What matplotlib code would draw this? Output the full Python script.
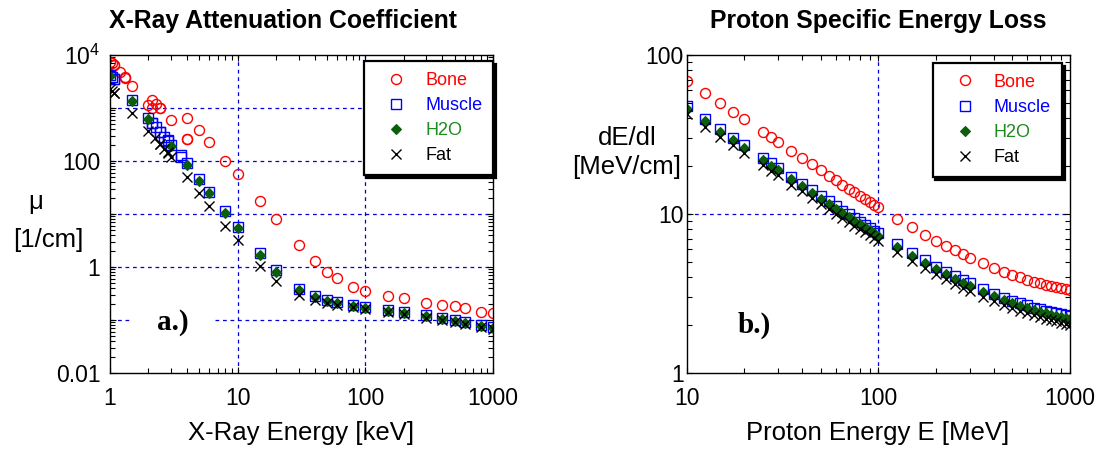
import matplotlib
matplotlib.use("Agg")
import matplotlib.pyplot as plt

plt.rcParams["font.family"] = ["Liberation Sans", "DejaVu Sans"]
plt.rcParams["mathtext.fontset"] = "custom"
plt.rcParams["mathtext.rm"] = "Liberation Sans"

# X-ray attenuation coefficient mu [1/cm] vs photon energy [keV]
xr_bone_e = [1.0, 1.036, 1.072, 1.072, 1.189, 1.305, 1.305, 1.5, 2.0, 2.146, 2.146, 2.3,
             2.472, 2.472, 3.0, 4.0, 4.038, 4.038, 5, 6, 8, 10, 15, 20, 30, 40, 50, 60,
             80, 100, 150, 200, 300, 400, 500, 600, 800, 1000]
xr_bone = [7480, 6950, 6500, 6550, 4850, 3750, 3850, 2600, 1130, 980, 1420, 1190,
           990, 1010, 595, 258, 255, 650, 385, 230, 100, 56, 17.6, 7.9, 2.6, 1.32, 0.82, 0.62,
           0.42, 0.36, 0.28, 0.26, 0.21, 0.19, 0.18, 0.165, 0.14, 0.135]

xr_muscle_e = [1.0, 1.036, 1.072, 1.072, 1.5, 2.0, 2.146, 2.146, 2.3, 2.472, 2.472, 2.647,
               2.822, 2.822, 3.0, 3.607, 3.607, 4.0, 5, 6, 8, 10, 15, 20, 30, 40, 50, 60,
               80, 100, 150, 200, 300, 400, 500, 600, 800, 1000]
xr_muscle = [4200, 3800, 3450, 3470, 1420, 640, 520, 528, 430, 350, 358, 286,
             236, 244, 200, 120, 127, 92, 46, 26.5, 11.2, 5.7, 1.8, 0.86, 0.39, 0.28, 0.236, 0.215,
             0.192, 0.178, 0.157, 0.143, 0.124, 0.111, 0.101, 0.0935, 0.082, 0.0738]

xr_water_e = [1.0, 1.5, 2.0, 3.0, 4.0, 5, 6, 8, 10, 15, 20, 30, 40, 50, 60,
              80, 100, 150, 200, 300, 400, 500, 600, 800, 1000]
xr_water = [4078, 1376, 617, 193, 82.8, 42.6, 24.6, 10.4, 5.33, 1.67, 0.810, 0.376, 0.268, 0.227, 0.206,
            0.184, 0.171, 0.151, 0.137, 0.119, 0.106, 0.0969, 0.0896, 0.0787, 0.0707]

xr_fat_e = [1.0, 1.036, 1.072, 1.072, 1.5, 2.0, 2.236, 2.472, 2.472, 2.647, 2.822, 2.822,
            3.0, 4.0, 5, 6, 8, 10, 15, 20, 30, 40, 50, 60,
            80, 100, 150, 200, 300, 400, 500, 600, 800, 1000]
xr_fat = [2300, 2080, 1880, 1890, 820, 373, 275, 205, 207, 172, 143, 146,
          120, 50, 25, 14.3, 6.0, 3.2, 1.05, 0.55, 0.30, 0.24, 0.212, 0.195,
          0.174, 0.161, 0.142, 0.129, 0.111, 0.0995, 0.091, 0.084, 0.0738, 0.0664]

# Proton stopping power dE/dl [MeV/cm] vs proton energy [MeV]
p_e = [10, 12.5, 15, 17.5, 20, 25, 27.5, 30, 35, 40, 45, 50, 55, 60, 65, 70, 75, 80, 85, 90, 95,
       100, 125, 150, 175, 200, 225, 250, 275, 300, 350, 400, 450, 500, 550, 600, 650, 700,
       750, 800, 850, 900, 950, 1000]
p_bone = [69.0, 57.7, 49.7, 43.9, 39.4, 32.9, 30.4, 28.4, 24.9, 22.5, 20.5, 18.9, 17.4, 16.3,
          15.3, 14.4, 13.7, 13.0, 12.4, 11.9, 11.4, 11.0, 9.35, 8.23, 7.40, 6.78, 6.30, 5.90,
          5.59, 5.32, 4.89, 4.58, 4.33, 4.14, 3.99, 3.86, 3.75, 3.66, 3.58, 3.52, 3.46, 3.41,
          3.37, 3.33]
p_muscle = [47.5, 39.7, 34.2, 30.2, 27.1, 22.6, 20.9, 19.5, 17.2, 15.5, 14.1, 13.0, 12.0, 11.2,
            10.5, 9.94, 9.42, 8.97, 8.57, 8.20, 7.87, 7.58, 6.44, 5.66, 5.10, 4.67, 4.34, 4.07,
            3.85, 3.66, 3.37, 3.15, 2.98, 2.85, 2.75, 2.66, 2.58, 2.52, 2.47, 2.42, 2.38, 2.35,
            2.32, 2.29]
p_water = [45.7, 38.2, 32.9, 29.1, 26.1, 21.8, 20.1, 18.8, 16.5, 14.9, 13.6, 12.5, 11.5, 10.8,
           10.1, 9.56, 9.06, 8.63, 8.24, 7.89, 7.57, 7.29, 6.19, 5.45, 4.90, 4.49, 4.17, 3.91,
           3.70, 3.52, 3.24, 3.03, 2.87, 2.74, 2.64, 2.56, 2.48, 2.42, 2.37, 2.33, 2.29, 2.26,
           2.23, 2.20]
p_fat = [42.5, 35.5, 30.6, 27.1, 24.3, 20.3, 18.7, 17.5, 15.3, 13.9, 12.6, 11.6, 10.7, 10.0,
         9.39, 8.89, 8.43, 8.03, 7.66, 7.34, 7.04, 6.78, 5.76, 5.07, 4.56, 4.18, 3.88, 3.64,
         3.44, 3.27, 3.01, 2.82, 2.67, 2.55, 2.46, 2.38, 2.31, 2.25, 2.20, 2.15, 2.11, 2.07,
         2.03, 2.00]

labels = ["Bone", "Muscle", "H2O", "Fat"]
text_colors = ["#ff0000", "#0000ff", "#1f8a1f", "#000000"]
GRID = dict(color="#0000dd", lw=0.9, dashes=(3, 3))

W, H = 1105, 451
fig = plt.figure(figsize=(W / 100, H / 100), dpi=100)


def px_axes(x0, y0, x1, y1):
    return fig.add_axes([x0 / W, 1 - y1 / H, (x1 - x0) / W, (y1 - y0) / H])


def draw_series(ax, bone, muscle, water, fat):
    ax.plot(*bone, "o", mfc="none", mec="#ff0000", ms=7.2, mew=1.0, label=labels[0])
    ax.plot(*muscle, "s", mfc="none", mec="#0000ff", ms=6.8, mew=1.0, label=labels[1])
    ax.plot(*water, "D", mfc="#0b5e0b", mec="#0b5e0b", ms=5.2, mew=0.8, label=labels[2])
    ax.plot(*fat, "x", color="black", ms=6.5, mew=1.0, label=labels[3])


def style_axes(ax):
    ax.set_xscale("log")
    ax.set_yscale("log")
    ax.tick_params(which="both", direction="in", top=True, right=True, width=0.8,
                   labelsize=16.5, colors="black")
    ax.tick_params(which="major", length=4)
    ax.tick_params(which="minor", length=3.5)
    for s in ax.spines.values():
        s.set_linewidth(1.0)


def add_legend(ax, anchor):
    leg = ax.legend(loc="upper right", bbox_to_anchor=anchor, borderaxespad=0,
                    numpoints=1, fontsize=13, fancybox=False, framealpha=1,
                    edgecolor="black", borderpad=0.6, handlelength=2.4,
                    handletextpad=0.4, labelspacing=0.45,
                    shadow={"color": "black", "alpha": 1})
    leg.get_frame().set_linewidth(1.6)
    for t, c in zip(leg.get_texts(), text_colors):
        t.set_color(c)
    return leg


# ---- a.) X-ray attenuation
ax1 = px_axes(110, 55, 493, 373)
style_axes(ax1)
ax1.set_xlim(1, 1000)
ax1.set_ylim(0.01, 1e4)
for yv in [1000, 100, 10, 1, 0.1]:
    ax1.axhline(yv, zorder=0.5, **GRID)
for xv in [10, 100]:
    ax1.axvline(xv, zorder=0.5, **GRID)
draw_series(ax1, (xr_bone_e, xr_bone), (xr_muscle_e, xr_muscle),
            (xr_water_e, xr_water), (xr_fat_e, xr_fat))
ax1.set_xticks([1, 10, 100, 1000])
ax1.set_xticklabels(["1", "10", "100", "1000"])
ax1.set_yticks([0.01, 0.1, 1, 10, 100, 1000, 1e4])
ax1.set_yticklabels(["0.01", "", "1", "", "100", "", r"$\mathregular{10^4}$"])
ax1.tick_params(axis="y", pad=7)
ax1.tick_params(axis="x", pad=10)
add_legend(ax1, (1.0, 0.981))
ax1.text(0.165, 0.16, "a.)", transform=ax1.transAxes, ha="center", va="center",
         fontsize=21, fontweight="bold", family="Liberation Serif",
         bbox=dict(fc="white", ec="none", boxstyle="square,pad=0.9"), zorder=3)

# ---- b.) proton stopping power
ax2 = px_axes(686.7, 55, 1070, 373)
style_axes(ax2)
ax2.set_xlim(10, 1000)
ax2.set_ylim(1, 100)
ax2.axhline(10, zorder=0.5, **GRID)
ax2.axvline(100, zorder=0.5, **GRID)
draw_series(ax2, (p_e, p_bone), (p_e, p_muscle), (p_e, p_water), (p_e, p_fat))
ax2.set_xticks([10, 100, 1000])
ax2.set_xticklabels(["10", "100", "1000"])
ax2.set_yticks([1, 10, 100])
ax2.set_yticklabels(["1", "10", "100"])
ax2.tick_params(axis="y", pad=2)
ax2.tick_params(axis="x", pad=10)
add_legend(ax2, (0.979, 0.975))
ax2.text(0.175, 0.15, "b.)", transform=ax2.transAxes, ha="center", va="center",
         fontsize=21, fontweight="bold", family="Liberation Serif", zorder=3)

# titles and axis labels
fig.text(283 / W, 1 - 21 / H, "X-Ray Attenuation Coefficient", ha="center", va="center",
         fontsize=17.8, fontweight="bold")
fig.text(878 / W, 1 - 21 / H, "Proton Specific Energy Loss", ha="center", va="center",
         fontsize=17.8, fontweight="bold")
fig.text(301 / W, 1 - 433 / H, "X-Ray Energy [keV]", ha="center", va="center", fontsize=18.5)
fig.text(878 / W, 1 - 433 / H, "Proton Energy E [MeV]", ha="center", va="center", fontsize=18.5)
fig.text(36 / W, 1 - 202 / H, "\u03bc", ha="center", va="center", fontsize=18.5)
fig.text(48 / W, 1 - 240 / H, "[1/cm]", ha="center", va="center", fontsize=18.5)
fig.text(627 / W, 1 - 138 / H, "dE/dl", ha="center", va="center", fontsize=18.5)
fig.text(627 / W, 1 - 167 / H, "[MeV/cm]", ha="center", va="center", fontsize=18.5)

fig.savefig("out.png", dpi=100)
